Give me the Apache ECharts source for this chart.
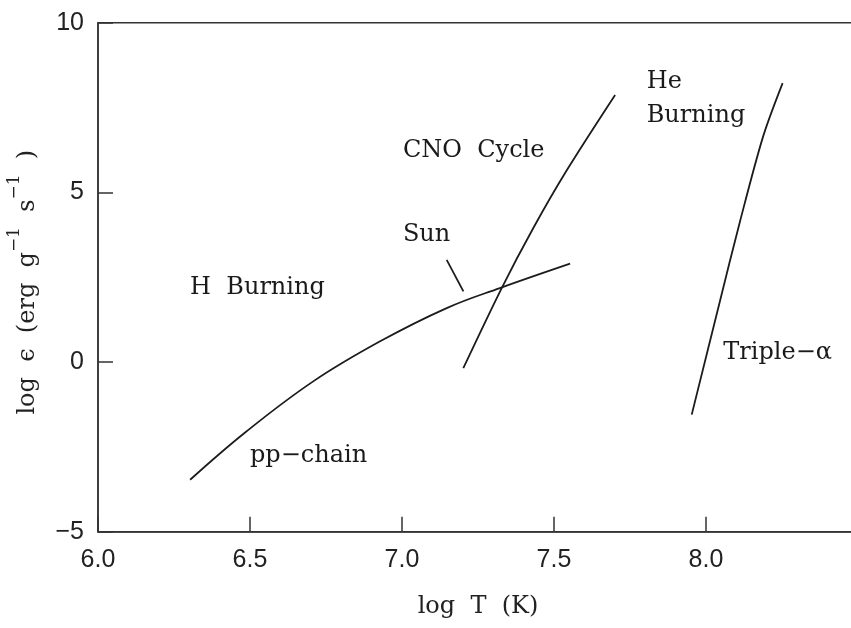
<!DOCTYPE html>
<html>
<head>
<meta charset="utf-8">
<script src="https://cdn.jsdelivr.net/npm/echarts@6/dist/echarts.min.js"></script>
<style>html,body{margin:0;padding:0;background:#fff;}#c{width:851px;height:628px;}</style>
</head>
<body>
<div id="c"></div>
<script>
// log T (K) / log epsilon values
const ppX = [6.303, 6.489, 6.708, 6.928, 7.147, 7.322, 7.553];
const ppY = [-3.47, -2.04, -0.57, 0.61, 1.59, 2.18, 2.90];
const cnoX = [7.2017, 7.328, 7.432, 7.542, 7.701];
const cnoY = [-0.18, 2.18, 3.95, 5.65, 7.87];
const triX = [7.953, 8.046, 8.112, 8.188, 8.252];
const triY = [-1.55, 1.80, 4.15, 6.65, 8.22];
const sunX = [7.147, 7.202];
const sunY = [3.01, 2.08];
const annoText = ['CNO  Cycle', 'He', 'Burning', 'Sun', 'H  Burning', 'pp\u2212chain', 'Triple\u2212\u03b1'];
const annoX = [7.003, 7.805, 7.805, 7.003, 6.303, 6.5, 8.057];
const annoY = [6.23, 8.27, 7.26, 3.75, 2.20, -2.76, 0.27];
const xTicks = [6.0, 6.5, 7.0, 7.5, 8.0];
const yTicks = [-5, 0, 5, 10];

const zip = (a, b) => a.map((v, i) => [v, b[i]]);
const lineColor = '#1c1c1c';
const serif = '"DejaVu Serif", "Liberation Serif", serif';
const sans = '"Liberation Sans", Arial, sans-serif';

function lineSeries(x, y, smooth) {
  return {
    type: 'line', data: zip(x, y), smooth: smooth, showSymbol: false, symbol: 'none',
    lineStyle: { color: lineColor, width: 1.8 }, silent: true, animation: false
  };
}

const chart = echarts.init(document.getElementById('c'), null, { renderer: 'canvas' });
chart.setOption({
  backgroundColor: '#fff',
  animation: false,
  grid: { left: 98, top: 22.7, width: 760, height: 509, outerBoundsMode: 'none', containLabel: false,
    show: true, borderColor: '#333', borderWidth: 1.5, backgroundColor: 'transparent' },
  xAxis: {
    type: 'value', min: 6.0, max: 8.5, interval: 0.5,
    name: 'log  T  (K)', nameLocation: 'middle', nameGap: 63,
    nameTextStyle: { fontFamily: serif, fontSize: 24, color: '#222' },
    axisLine: { show: true, onZero: false, lineStyle: { color: '#333', width: 1.5 } },
    axisTick: { show: true, inside: true, length: 15, lineStyle: { color: '#333', width: 1.5 } },
    axisLabel: { fontFamily: sans, fontSize: 25, color: '#222', margin: 16,
      formatter: v => xTicks.includes(Math.round(v * 10) / 10) ? v.toFixed(1) : '' },
    splitLine: { show: false }
  },
  yAxis: {
    type: 'value', min: -5, max: 10, interval: 5,
    name: '{m|log  \u03f5  (erg  g}{s|\u22121}{m|  s}{s|\u22121}{m|  )}', nameLocation: 'middle', nameGap: 58, nameRotate: 90,
    nameTextStyle: { fontFamily: serif, fontSize: 24, color: '#222', padding: [0, 0, 0, -10],
      rich: {
        m: { fontFamily: serif, fontSize: 24, color: '#222', lineHeight: 34, verticalAlign: 'bottom' },
        s: { fontFamily: serif, fontSize: 17, color: '#222', lineHeight: 34, verticalAlign: 'top' }
      } },
    axisLine: { show: true, onZero: false, lineStyle: { color: '#333', width: 1.5 } },
    axisTick: { show: true, inside: true, length: 15, lineStyle: { color: '#333', width: 1.5 } },
    axisLabel: { fontFamily: sans, fontSize: 25, color: '#222', margin: 14,
      formatter: v => yTicks.includes(v) ? String(v).replace('-', '\u2212') : '' },
    splitLine: { show: false }
  },
  series: [
    lineSeries(ppX, ppY, 0.4),
    lineSeries(cnoX, cnoY, 0.3),
    lineSeries(triX, triY, 0.3),
    lineSeries(sunX, sunY, false),
    {
      type: 'scatter', symbolSize: 0, silent: true, animation: false,
      itemStyle: { opacity: 1 },
      data: annoX.map((x, i) => ({ value: [x, annoY[i]], name: annoText[i] })),
      label: { show: true, position: [0, 0], align: 'left', verticalAlign: 'middle',
        formatter: p => p.name, fontFamily: serif, fontSize: 24, color: '#1a1a1a' }
    }
  ]
});
</script>
</body>
</html>
